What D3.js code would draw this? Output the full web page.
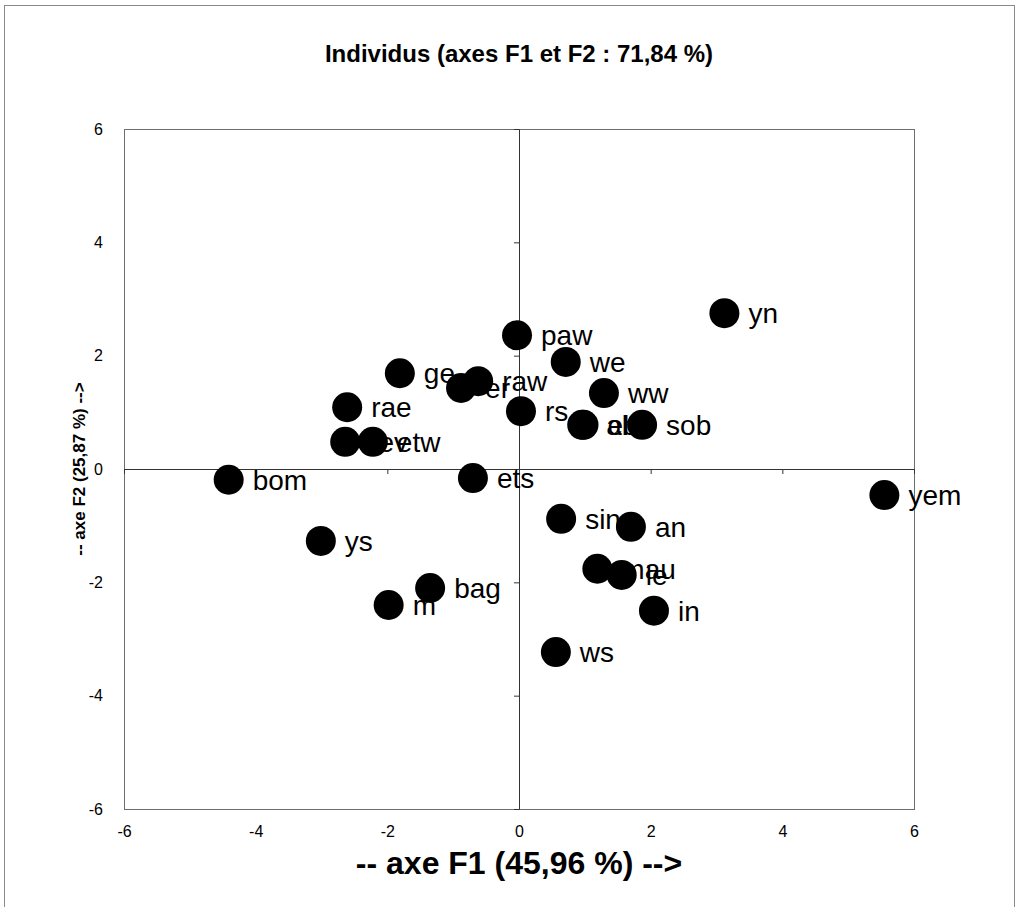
<!DOCTYPE html>
<html>
<head>
<meta charset="utf-8">
<script src="https://cdn.jsdelivr.net/npm/d3@7"></script>
<style>
  body { margin: 0; background: #fff; }
  svg text { font-family: "Liberation Sans", Arial, sans-serif; }
</style>
</head>
<body>
<div class="chart"></div>
<script>
/*------------------------------- data -------------------------------*/

const names = ["paw", "yn", "we", "ge", "er", "raw", "ww", "rae", "rs", "ab", "el", "sob",
    "rev", "etw", "bom", "ets", "yem", "sin", "an", "ys", "mau", "le", "bag", "m", "in", "ws"];
const f1 = [-0.03, 3.12, 0.71, -1.81, -0.88, -0.62, 1.29, -2.61, 0.03, 0.96, 0.98, 1.87,
    -2.64, -2.22, -4.41, -0.70, 5.55, 0.64, 1.70, -3.01, 1.19, 1.56, -1.35, -1.98, 2.05, 0.56];
const f2 = [2.36, 2.75, 1.89, 1.69, 1.43, 1.55, 1.34, 1.09, 1.02, 0.78, 0.78, 0.78,
    0.48, 0.48, -0.19, -0.16, -0.46, -0.88, -1.02, -1.27, -1.76, -1.87, -2.10, -2.40, -2.50, -3.23];
const ticks = [-6, -4, -2, 0, 2, 4, 6];

const title = "Individus (axes F1 et F2 : 71,84 %)";
const xTitle = "-- axe F1 (45,96 %) -->";
const yTitle = "-- axe F2 (25,87 %) -->";

/*------------------------------- init -------------------------------*/

const size = { width: 1018, height: 907 };
const plot = { left: 124, top: 129, right: 914, bottom: 809 };

const svg = d3.select(".chart").append("svg")
    .attr("width", size.width)
    .attr("height", size.height);

// outer chart border
svg.append("rect")
    .attr("x", 4.5).attr("y", 5.5)
    .attr("width", 1010).attr("height", 910)
    .attr("fill", "none")
    .attr("stroke", "#8a8a8a")
    .attr("stroke-width", 1);

const xScale = d3.scaleLinear().domain([-6, 6]).range([plot.left, plot.right]);
const yScale = d3.scaleLinear().domain([-6, 6]).range([plot.bottom, plot.top]);

// plot frame
svg.append("rect")
    .attr("x", plot.left + 0.5).attr("y", plot.top + 0.5)
    .attr("width", plot.right - plot.left).attr("height", plot.bottom - plot.top)
    .attr("fill", "none")
    .attr("stroke", "#6e6e6e");

/*------------------------------- axes -------------------------------*/

// zero lines with little ticks
const xZero = svg.append("g")
    .attr("transform", `translate(0,${yScale(0)})`)
    .call(d3.axisBottom(xScale).tickValues(ticks).tickSize(5).tickFormat(""));
const yZero = svg.append("g")
    .attr("transform", `translate(${xScale(0)},0)`)
    .call(d3.axisLeft(yScale).tickValues(ticks).tickSize(5).tickFormat(""));
[xZero, yZero].forEach(g => {
    g.select(".domain").attr("stroke", "#333");
    g.selectAll(".tick line").attr("stroke", "#333");
});

// tick labels outside the frame (plain hyphen like the original)
const xLab = svg.append("g")
    .attr("transform", `translate(0,${plot.bottom})`)
    .call(d3.axisBottom(xScale).tickValues(ticks).tickSize(0).tickPadding(17).tickFormat(d => String(d)));
const yLab = svg.append("g")
    .attr("transform", `translate(${plot.left},0)`)
    .call(d3.axisLeft(yScale).tickValues(ticks).tickSize(0).tickPadding(21).tickFormat(d => String(d)));
[xLab, yLab].forEach(g => {
    g.select(".domain").remove();
    g.selectAll("text")
        .style("font-family", "'Liberation Sans', Arial, sans-serif")
        .style("font-size", "16px")
        .attr("fill", "#000");
});

/*------------------------------- titles -------------------------------*/

svg.append("text")
    .attr("x", xScale(0)).attr("y", 62)
    .attr("text-anchor", "middle")
    .style("font-weight", "bold")
    .style("font-size", "24px")
    .text(title);

svg.append("text")
    .attr("x", xScale(0)).attr("y", 874)
    .attr("text-anchor", "middle")
    .style("font-weight", "bold")
    .style("font-size", "32px")
    .text(xTitle);

svg.append("text")
    .attr("transform", `translate(85,${yScale(0)}) rotate(-90)`)
    .attr("text-anchor", "middle")
    .style("font-weight", "bold")
    .style("font-size", "17px")
    .text(yTitle);

/*------------------------------- points -------------------------------*/

const points = names.map((n, i) => ({ name: n, x: f1[i], y: f2[i] }));

// labels first, markers drawn over them like in the original
svg.append("g").selectAll("text")
    .data(points)
    .enter()
    .append("text")
    .attr("x", d => xScale(d.x) + 24)
    .attr("y", d => yScale(d.y))
    .attr("dy", "0.36em")
    .style("font-size", "28px")
    .attr("fill", "#000")
    .text(d => d.name);

svg.append("g").selectAll("circle")
    .data(points)
    .enter()
    .append("circle")
    .attr("cx", d => xScale(d.x))
    .attr("cy", d => yScale(d.y))
    .attr("r", 15)
    .attr("fill", "#000");
</script>
</body>
</html>
